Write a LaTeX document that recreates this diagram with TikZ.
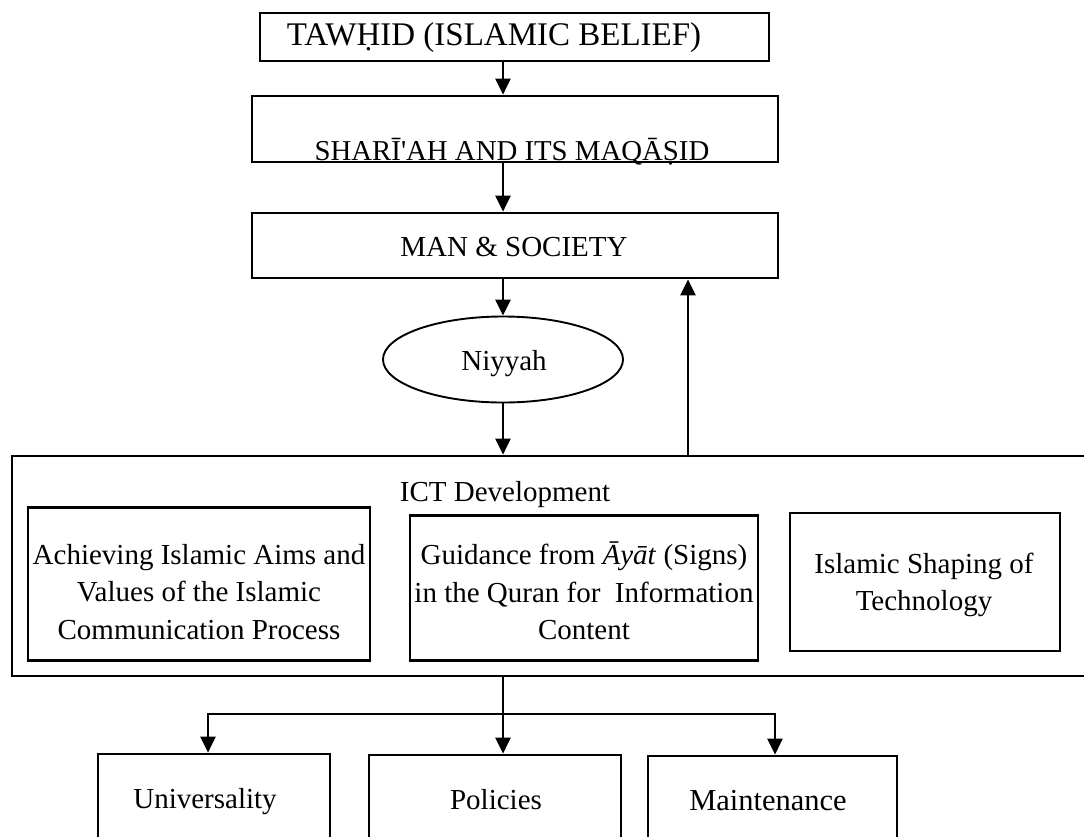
\documentclass[tikz,border=0pt]{standalone}
\usepackage{fontspec}
\setmainfont{Liberation Serif}[Ligatures=TeXOff]
\usetikzlibrary{arrows.meta,shapes.geometric}
\begin{document}
\begin{tikzpicture}[x=1pt,y=-1pt,
  box/.style={draw,line width=2.7pt,inner sep=0pt},
  txt/.style={font=\fontsize{29}{37.5}\selectfont,align=center,inner sep=0pt},
  arr/.style={line width=2.7pt,-{Triangle[length=16pt,width=15pt]}}]
\useasboundingbox (0,0) rectangle (1084,836);
\fill[white] (0,0) rectangle (1084,836);

% belief chain
\node[box,minimum width=509pt,minimum height=48pt] (tawhid) at (514.5,37) {};
\node[txt,anchor=base,font=\fontsize{33}{37}\selectfont] (tawhidt) at (494,45) {TAWḤID (ISLAMIC BELIEF)};
\node[box,minimum width=526pt,minimum height=66pt] (sharia) at (515,129) {};
\node[txt,anchor=base,font=\fontsize{28.8}{37}\selectfont] (shariat) at (512,160) {SHARĪ'AH AND ITS MAQĀṢID};
\node[box,minimum width=526pt,minimum height=65pt] (man) at (515,245.5) {};
\node[txt,anchor=base] (mant) at (514,256) {MAN \& SOCIETY};
\node[draw,line width=1.9pt,ellipse,minimum width=240pt,minimum height=86pt] (niyyah) at (503,359.5) {};
\node[txt,anchor=base] (niyyaht) at (504,370) {Niyyah};

% ICT development block
\node[box,minimum width=1090pt,minimum height=220pt] (ict) at (557,566) {};
\node[txt,anchor=base] (ictt) at (505,501) {ICT Development};
\node[box,minimum width=342pt,minimum height=153pt] (aims) at (199,584) {};
\node[txt] (aimst) at (199,592)
  {Achieving Islamic Aims and\\Values of the Islamic\\Communication Process};
\node[box,minimum width=348pt,minimum height=145pt] (ayat) at (584,588) {};
\node[txt] (ayatt) at (584,591)
  {Guidance from \textit{Āyāt} (Signs)\\in the Quran for\ \ Information\\Content};
\node[box,minimum width=270pt,minimum height=138pt] (shaping) at (925,582) {};
\node[txt] (shapingt) at (924,585) {Islamic Shaping of\\Technology};

% outcomes
\node[box,minimum width=232pt,minimum height=120pt] (univ) at (214,814) {};
\node[txt,anchor=base] (univt) at (205,808) {Universality};
\node[box,minimum width=252pt,minimum height=120pt] (policy) at (495,815) {};
\node[txt,anchor=base] (policyt) at (496,809) {Policies};
\node[box,minimum width=249pt,minimum height=120pt] (maint) at (772.5,816) {};
\node[txt,anchor=base,font=\fontsize{30.5}{37}\selectfont] (maintt) at (768,810) {Maintenance};

% connectors
\coordinate (cx) at (503,0);
\coordinate (upx) at (688,0);
\coordinate (lx) at (208,0);
\coordinate (rx) at (775,0);
\coordinate (split) at (503,714);
\draw[arr] (tawhid.south -| cx) -- (sharia.north -| cx);
\draw[arr] (sharia.south -| cx) -- (man.north -| cx);
\draw[arr] (man.south -| cx) -- (niyyah.north);
\draw[arr] (niyyah.south) -- (ict.north -| cx);
\draw[arr] (ict.north -| upx) -- (man.south -| upx);
\draw[arr] (ict.south -| cx) -- (policy.north -| cx);
\draw[arr] (split) -| (univ.north -| lx);
\draw[arr] (split) -| (maint.north -| rx);
\end{tikzpicture}
\end{document}
